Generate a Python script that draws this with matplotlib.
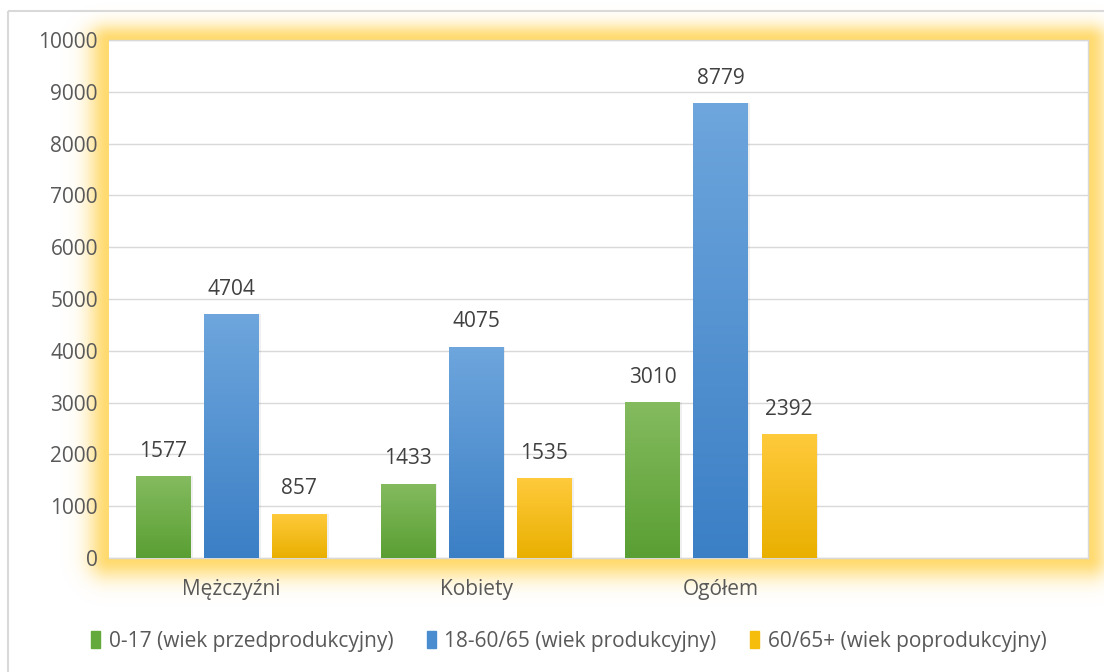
import numpy as np
import matplotlib.pyplot as plt
from matplotlib.patches import Rectangle
from matplotlib.colors import LinearSegmentedColormap

# === Data ===
categories = ["Mężczyźni", "Kobiety", "Ogółem", ""]
series_names = ["0-17 (wiek przedprodukcyjny)",
                "18-60/65 (wiek produkcyjny)",
                "60/65+ (wiek poprodukcyjny)"]
pre_prod = [1577, 1433, 3010]
prod = [4704, 4075, 8779]
post_prod = [857, 1535, 2392]
y_ticks = [0, 1000, 2000, 3000, 4000, 5000, 6000, 7000, 8000, 9000, 10000]

series = [pre_prod, prod, post_prod]
# (top colour, bottom colour) for the bar gradients
grad_colors = [("#84bb5f", "#5a9f33"),
               ("#6ea6dd", "#3b7fc5"),
               ("#ffca3c", "#e9b000")]
legend_colors = ["#63a93c", "#4a8cd0", "#f7bd0c"]

W, H = 1104, 672
fig = plt.figure(figsize=(W / 100, H / 100), dpi=100)
plt.rcParams['font.family'] = ['Open Sans', 'DejaVu Sans']
FS = 15

# plot area in pixels
px0, px1 = 109, 1088
py0, py1 = 40, 558

# === Background: outer border and yellow glow round the plot area ===
bg = fig.add_axes([0, 0, 1, 1], zorder=0)
bg.set_xlim(0, W)
bg.set_ylim(H, 0)
bg.axis("off")

xx, yy = np.meshgrid(np.arange(W) + 0.5, np.arange(H) + 0.5)
dx = np.maximum(np.maximum(px0 - xx, xx - px1), 0)
dy_top = np.maximum(py0 - yy, 0)
dy_bot = np.maximum(yy - py1, 0)
dist = np.sqrt(dx ** 2 + (dy_top * 1.3) ** 2 + dy_bot ** 2)
alpha = np.exp(-(dist / 21.0) ** 2)
glow = np.zeros((H, W, 4))
glow[..., 0] = 1.0
glow[..., 1] = 0.85
glow[..., 2] = 0.40
glow[..., 3] = alpha * 0.95
bg.imshow(glow, extent=(0, W, H, 0), interpolation="bilinear", zorder=1)
bg.add_patch(Rectangle((8, 11), W, H, fill=False, edgecolor="#d9d9d9",
                       linewidth=1.5, zorder=2))

# === Main axes ===
ax = fig.add_axes([px0 / W, 1 - py1 / H, (px1 - px0) / W, (py1 - py0) / H],
                  zorder=2)
ax.set_facecolor("white")

x = np.arange(len(categories))
bar_w = 0.224
step = 0.278

for i, (vals, (ctop, cbot)) in enumerate(zip(series, grad_colors)):
    xs = x[:len(vals)] + (i - 1) * step
    # soft shadow
    ax.bar(xs + 0.008, vals, width=bar_w, color="#000000", alpha=0.06,
           zorder=2)
    bars = ax.bar(xs, vals, width=bar_w, color=cbot, zorder=3,
                  label=series_names[i])
    cmap = LinearSegmentedColormap.from_list("g", [cbot, ctop])
    grad = np.linspace(0, 1, 256).reshape(-1, 1)
    for b in bars:
        bx, by = b.get_x(), b.get_y()
        bw, bh = b.get_width(), b.get_height()
        im = ax.imshow(grad, cmap=cmap, aspect="auto", origin="lower",
                       extent=(bx, bx + bw, by, by + bh), zorder=3.5)
        im.set_clip_path(b)
    for xv, v in zip(xs, vals):
        ax.annotate(str(v), (xv, v), xytext=(0, 18), textcoords="offset points",
                    ha="center", va="center", fontsize=FS, color="#404040")

ax.set_xlim(-0.5, len(categories) - 0.5)
ax.set_ylim(0, 10000)
ax.set_yticks(y_ticks)
ax.set_xticks(x)
ax.set_xticklabels(categories)
ax.tick_params(axis="both", length=0, labelsize=FS, colors="#595959")
ax.tick_params(axis="x", pad=15)
ax.tick_params(axis="y", pad=8)
ax.grid(axis="y", color="#d9d9d9", linewidth=1, zorder=0)
ax.set_axisbelow(True)
ax.spines["left"].set_visible(False)
for s in ["top", "right", "bottom"]:
    ax.spines[s].set_color("#d9d9d9")
    ax.spines[s].set_linewidth(1)

# === Legend ===
handles = [Rectangle((0, 0), 1, 1, color=c) for c in legend_colors]
fig.legend(handles, series_names, loc="center", bbox_to_anchor=(0.515, 1 - 641 / H),
           ncol=3, frameon=False, fontsize=FS, handlelength=0.45,
           handleheight=0.85, handletextpad=0.4, columnspacing=1.6,
           labelcolor="#595959")

fig.savefig("out.png", dpi=100, facecolor="white")
